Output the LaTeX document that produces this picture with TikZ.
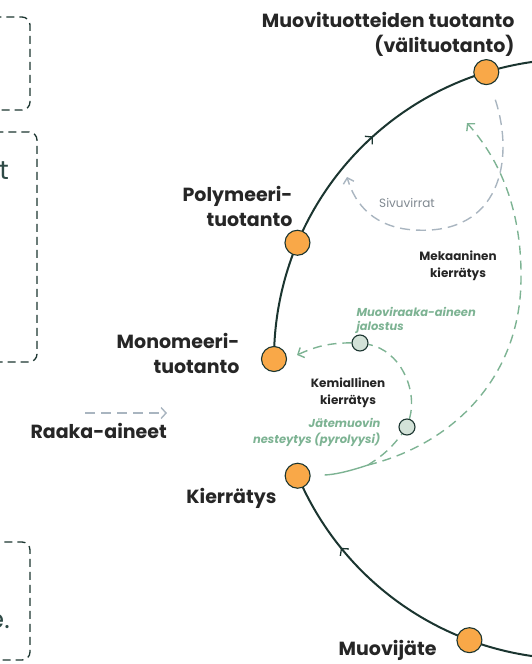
\documentclass[tikz,border=0pt]{standalone}
\usepackage{fontspec}
\setmainfont{Poppins}
\usepackage{xcolor}
\usetikzlibrary{calc,arrows.meta,backgrounds,decorations.markings}
\definecolor{ink}{HTML}{262626}
\definecolor{track}{HTML}{1B3530}
\definecolor{amber}{HTML}{F9A848}
\definecolor{mint}{HTML}{D3E2D8}
\definecolor{sage}{HTML}{7DB393}
\definecolor{mist}{HTML}{A9B5C0}
\definecolor{slate}{HTML}{2E4A46}
\newcommand{\Lab}{\fontsize{19}{25}\selectfont\bfseries}
\newcommand{\Sml}{\fontsize{12}{17}\selectfont}

\begin{document}
\begin{tikzpicture}[x=1pt,y=-1pt, font=\Lab, text=ink,
    stage/.style={circle,fill=amber,draw=track,line width=1.1pt,minimum size=25pt,inner sep=0pt},
    sub/.style={circle,fill=mint,draw=track,line width=1.1pt,minimum size=16pt,inner sep=0pt},
    loopline/.style={draw=track,line width=2pt},
    midarrow/.style={postaction={decorate},decoration={markings,
        mark=at position #1 with {\arrow{Straight Barb[length=5pt,width=11pt,line width=1.3pt]}}}},
    side/.style={draw=mist,line width=1.4pt,dash pattern=on 10pt off 6pt,-{Straight Barb[length=5pt,width=11pt]}},
    mech/.style={draw=sage,line width=1.4pt,dash pattern=on 9pt off 6pt},
    frame/.style={draw=track,line width=1.3pt,dash pattern=on 8pt off 5pt,rounded corners=8pt}]
  \clip (0,0) rectangle (531,664);
  % cut-off boxes on the left
  \draw[frame] (-60,17) rectangle (30,110);
  \draw[frame] (-60,132) rectangle (37,362);
  \draw[frame] (-60,542) rectangle (30,660);
  \node[anchor=base east,text=slate,font=\fontsize{26}{30}\selectfont,inner sep=0pt] (cut1) at (9,179) {t};
  \node[anchor=base east,text=slate,font=\fontsize{26}{30}\selectfont,inner sep=0pt] (cut2) at (10,628) {e.};
  % stages on the loop
  \coordinate (hub) at (574,359);
  \node[stage] (prod) at ($(hub)+(-107:300)$) {};
  \node[stage] (poly) at ($(hub)+(-157.2:300)$) {};
  \node[stage] (mono) at ($(hub)+(180:300)$) {};
  \node[stage] (kier) at ($(hub)+(157.1:300)$) {};
  \node[stage] (muov) at ($(hub)+(110.4:300)$) {};
  \node[sub] (refine) at (360,343) {};
  \node[sub] (pyro) at (407,427) {};
  \node[anchor=east,align=right] (prodlab) at (518,34) {Muovituotteiden tuotanto\\(välituotanto)};
  \node[anchor=east,align=right] (polylab) at (296,206) {Polymeeri-\\tuotanto};
  \node[anchor=east,align=right] (monolab) at (243,353) {Monomeeri-\\tuotanto};
  \node[anchor=base east] (kierlab) at (280,503) {Kierrätys};
  \node[anchor=base east] (muovlab) at (440,655) {Muovijäte};
  \node[anchor=base west] (rawlab) at (27,438) {Raaka-aineet};
  \node[font=\Sml,text=mist!75!black] (sidelab) at (407,203) {Sivuvirrat};
  \node[font=\Sml\bfseries,align=center,text=ink] (mechlab) at (458,266) {Mekaaninen\\kierrätys};
  \node[font=\Sml\bfseries,align=center,text=ink] (chemlab) at (348,393) {Kemiallinen\\kierrätys};
  \node[font=\fontsize{11.5}{14}\selectfont\bfseries\itshape,align=left,anchor=west,text=sage] (refinelab) at (353,320) {Muoviraaka-aineen\\jalostus};
  \node[font=\fontsize{11.5}{16}\selectfont\bfseries\itshape,align=right,anchor=east,text=sage] (pyrolab) at (384,432) {Jätemuovin\\nesteytys (pyrolyysi)};
  \coordinate (fork) at (368,465);
  \coordinate (mechend) at (467,123);
  \coordinate (sideend) at (347,177);
  \coordinate (rawfrom) at (85,413);
  \coordinate (rawto) at (167,413);
  \begin{pgfonlayer}{background}
    \draw[loopline,midarrow=0.5] (poly.center) arc[start angle=-157.2,end angle=-107,radius=300];
    \draw[loopline] (prod.center) arc[start angle=-107,end angle=-80,radius=300];
    \draw[loopline] (poly.center) arc[start angle=-157.2,end angle=-180,radius=300];
    \draw[loopline,midarrow=0.655] (muov.center) arc[start angle=110.4,end angle=157.1,radius=300];
    \draw[loopline] (muov.center) arc[start angle=110.4,end angle=80,radius=300];
    % recycling routes
    \draw[draw=sage,line width=1.4pt,shorten <=14pt] (kier) to[bend right=8] (fork);
    \draw[mech,-{Straight Barb[length=5pt,width=11pt]}] (fork) .. controls (450,445) and (520,380) .. (521,280)
      .. controls (522,210) and (500,160) .. (mechend);
    \draw[mech] (fork) to[bend right=10] (pyro);
    \draw[mech] (pyro) .. controls (418,390) and (400,350) .. (refine);
    \draw[mech,-{Straight Barb[length=5pt,width=11pt]}] (refine) to[bend right=12] ($(mono.east)+(10,-4)$);
    \draw[side,shorten <=16pt] (prod) .. controls (515,160) and (500,235) .. (415,230)
      .. controls (375,228) and (355,205) .. (sideend);
    \draw[side] (rawfrom) -- (rawto);
  \end{pgfonlayer}
\end{tikzpicture}
\end{document}
